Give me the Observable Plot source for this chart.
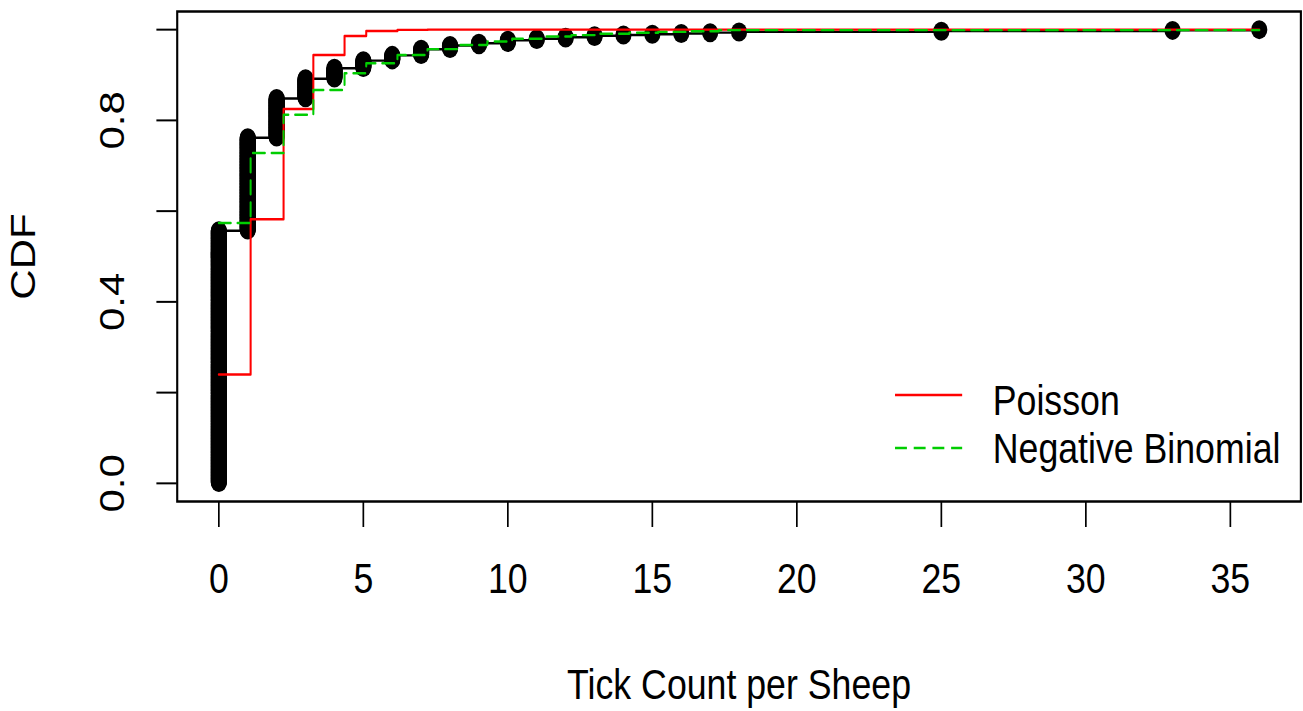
<!DOCTYPE html>
<html>
<head>
<meta charset="utf-8">
<script src="https://cdn.jsdelivr.net/npm/d3@7"></script>
<script src="https://cdn.jsdelivr.net/npm/@observablehq/plot@0.6"></script>
<style>
  html, body { margin: 0; padding: 0; background: #fff; }
  #chart svg { display: block; }
</style>
</head>
<body>
<div id="chart"></div>
<script>
// ---- Data ----
// Observed tick counts and how many sheep had each count
const tickCounts    = [0, 1, 2, 3, 4, 5, 6, 7, 8, 9, 10, 11, 12, 13, 14, 15, 16, 17, 18, 25, 33, 36];
const sheepPerCount = [334, 123, 52, 26, 14, 10, 7, 8, 5, 3, 4, 2, 2, 2, 1, 1, 1, 1, 1, 1, 1, 1];

// Fitted CDF step lines (break positions and levels as drawn)
const fitX        = [0, 1.1, 2.24, 3.27, 4.35, 5.1, 6.18, 7.22, 8.3, 9.29, 10.15, 11.23, 12.2, 13.2, 14.2, 15.2, 16.25, 17.3, 36];
const poissonCDF  = [0.24, 0.582, 0.825, 0.944, 0.986, 0.997, 0.9995, 1, 1, 1, 1, 1, 1, 1, 1, 1, 1, 1, 1];
const negBinCDF   = [0.574, 0.728, 0.8125, 0.867, 0.904, 0.926, 0.944, 0.957, 0.966, 0.974, 0.98, 0.985, 0.988, 0.991, 0.993, 0.995, 0.9965, 0.999, 0.999];

// Axes and text
const xTicks = [0, 5, 10, 15, 20, 25, 30, 35];
const yTicks = [0, 0.2, 0.4, 0.6, 0.8, 1.0];
const yTickLabels = [0, 0.4, 0.8];
const xTitle = "Tick Count per Sheep";
const yTitle = "CDF";
const legendLabels = ["Poisson", "Negative Binomial"];
const legendColors = ["#FF0000", "#00CD00"];
const legendDashes = [null, "14,8"];

// ---- Build tables ----
const N = d3.sum(sheepPerCount);
const obs = [];
let cum = 0;
tickCounts.forEach((v, i) => {
  for (let k = 0; k < sheepPerCount[i]; k++) {
    cum++;
    obs.push({x: v, y: cum / N});
  }
});
const poisson = fitX.map((x, i) => ({x, y: poissonCDF[i]}));
const negbin = fitX.map((x, i) => ({x, y: negBinCDF[i]}));

// ---- Layout (drawn in a wider coordinate space, then displayed at 1303x711) ----
const SX = 0.85;
const W = Math.round(1303 / SX);
const H = 711;
const mL = 208, mR = 3, mT = 11, mB = 210;
const FS = 42;
const LW = 2.4;
const font = "'Liberation Sans', Arial, Helvetica, sans-serif";

const plot = Plot.plot({
  width: W,
  height: H,
  marginLeft: mL,
  marginRight: mR,
  marginTop: mT,
  marginBottom: mB,
  x: {domain: [-1.44, 37.44]},
  y: {domain: [-0.04, 1.04]},
  style: {fontFamily: font, fontSize: FS + "px", color: "#000", background: "#fff", overflow: "visible"},
  marks: [
    Plot.axisX({ticks: xTicks, tickSize: 26, tickPadding: 36, tickFormat: d => String(d), strokeWidth: 2, fontSize: FS, label: null}),
    Plot.axisY({ticks: yTicks, tickSize: 24, tickFormat: () => "", strokeWidth: 2, label: null}),
    Plot.text(yTickLabels, {y: d => d, text: d => d.toFixed(1), frameAnchor: "left", dx: -76, rotate: -90, textAnchor: "middle", lineAnchor: "middle", fontSize: FS, fill: "#000"}),
    Plot.text([yTitle], {frameAnchor: "left", dx: -181, rotate: -90, textAnchor: "middle", lineAnchor: "middle", fontSize: FS, fill: "#000"}),
    Plot.text([xTitle], {frameAnchor: "bottom", dy: 168, textAnchor: "middle", lineAnchor: "top", fontSize: FS, fill: "#000"}),
    Plot.line(obs, {x: "x", y: "y", curve: "step-after", stroke: "#000", strokeWidth: LW}),
    Plot.dot(obs, {x: "x", y: "y", r: 9.5, fill: "#000"}),
    Plot.line(poisson, {x: "x", y: "y", curve: "step-after", stroke: legendColors[0], strokeWidth: LW}),
    Plot.line(negbin, {x: "x", y: "y", curve: "step-after", stroke: legendColors[1], strokeWidth: LW, strokeDasharray: legendDashes[1]}),
    Plot.frame({stroke: "#000", strokeWidth: 2.5})
  ]
});

// ---- Legend (no box), anchored to the bottom-right of the frame ----
const frameRight = W - mR;
const frameBottom = H - mB;
const lg = d3.select(plot).append("g").attr("class", "legend");
const lineOffsets = [-106, -53];
const textOffsets = [-86, -38];
legendLabels.forEach((lab, i) => {
  lg.append("line")
    .attr("x1", frameRight - 477).attr("x2", frameRight - 398)
    .attr("y1", frameBottom + lineOffsets[i]).attr("y2", frameBottom + lineOffsets[i])
    .attr("stroke", legendColors[i]).attr("stroke-width", LW)
    .attr("stroke-dasharray", legendDashes[i]);
  lg.append("text")
    .attr("x", frameRight - 362).attr("y", frameBottom + textOffsets[i])
    .attr("text-anchor", "start")
    .attr("font-family", font).attr("font-size", FS).attr("fill", "#000")
    .text(lab);
});

// Display the drawing at the reference size (horizontally condensed like the original)
plot.setAttribute("width", 1303);
plot.setAttribute("height", 711);
plot.setAttribute("preserveAspectRatio", "none");
plot.style.width = "1303px";
plot.style.height = "711px";
plot.style.maxWidth = "none";
document.getElementById("chart").appendChild(plot);
</script>
</body>
</html>
